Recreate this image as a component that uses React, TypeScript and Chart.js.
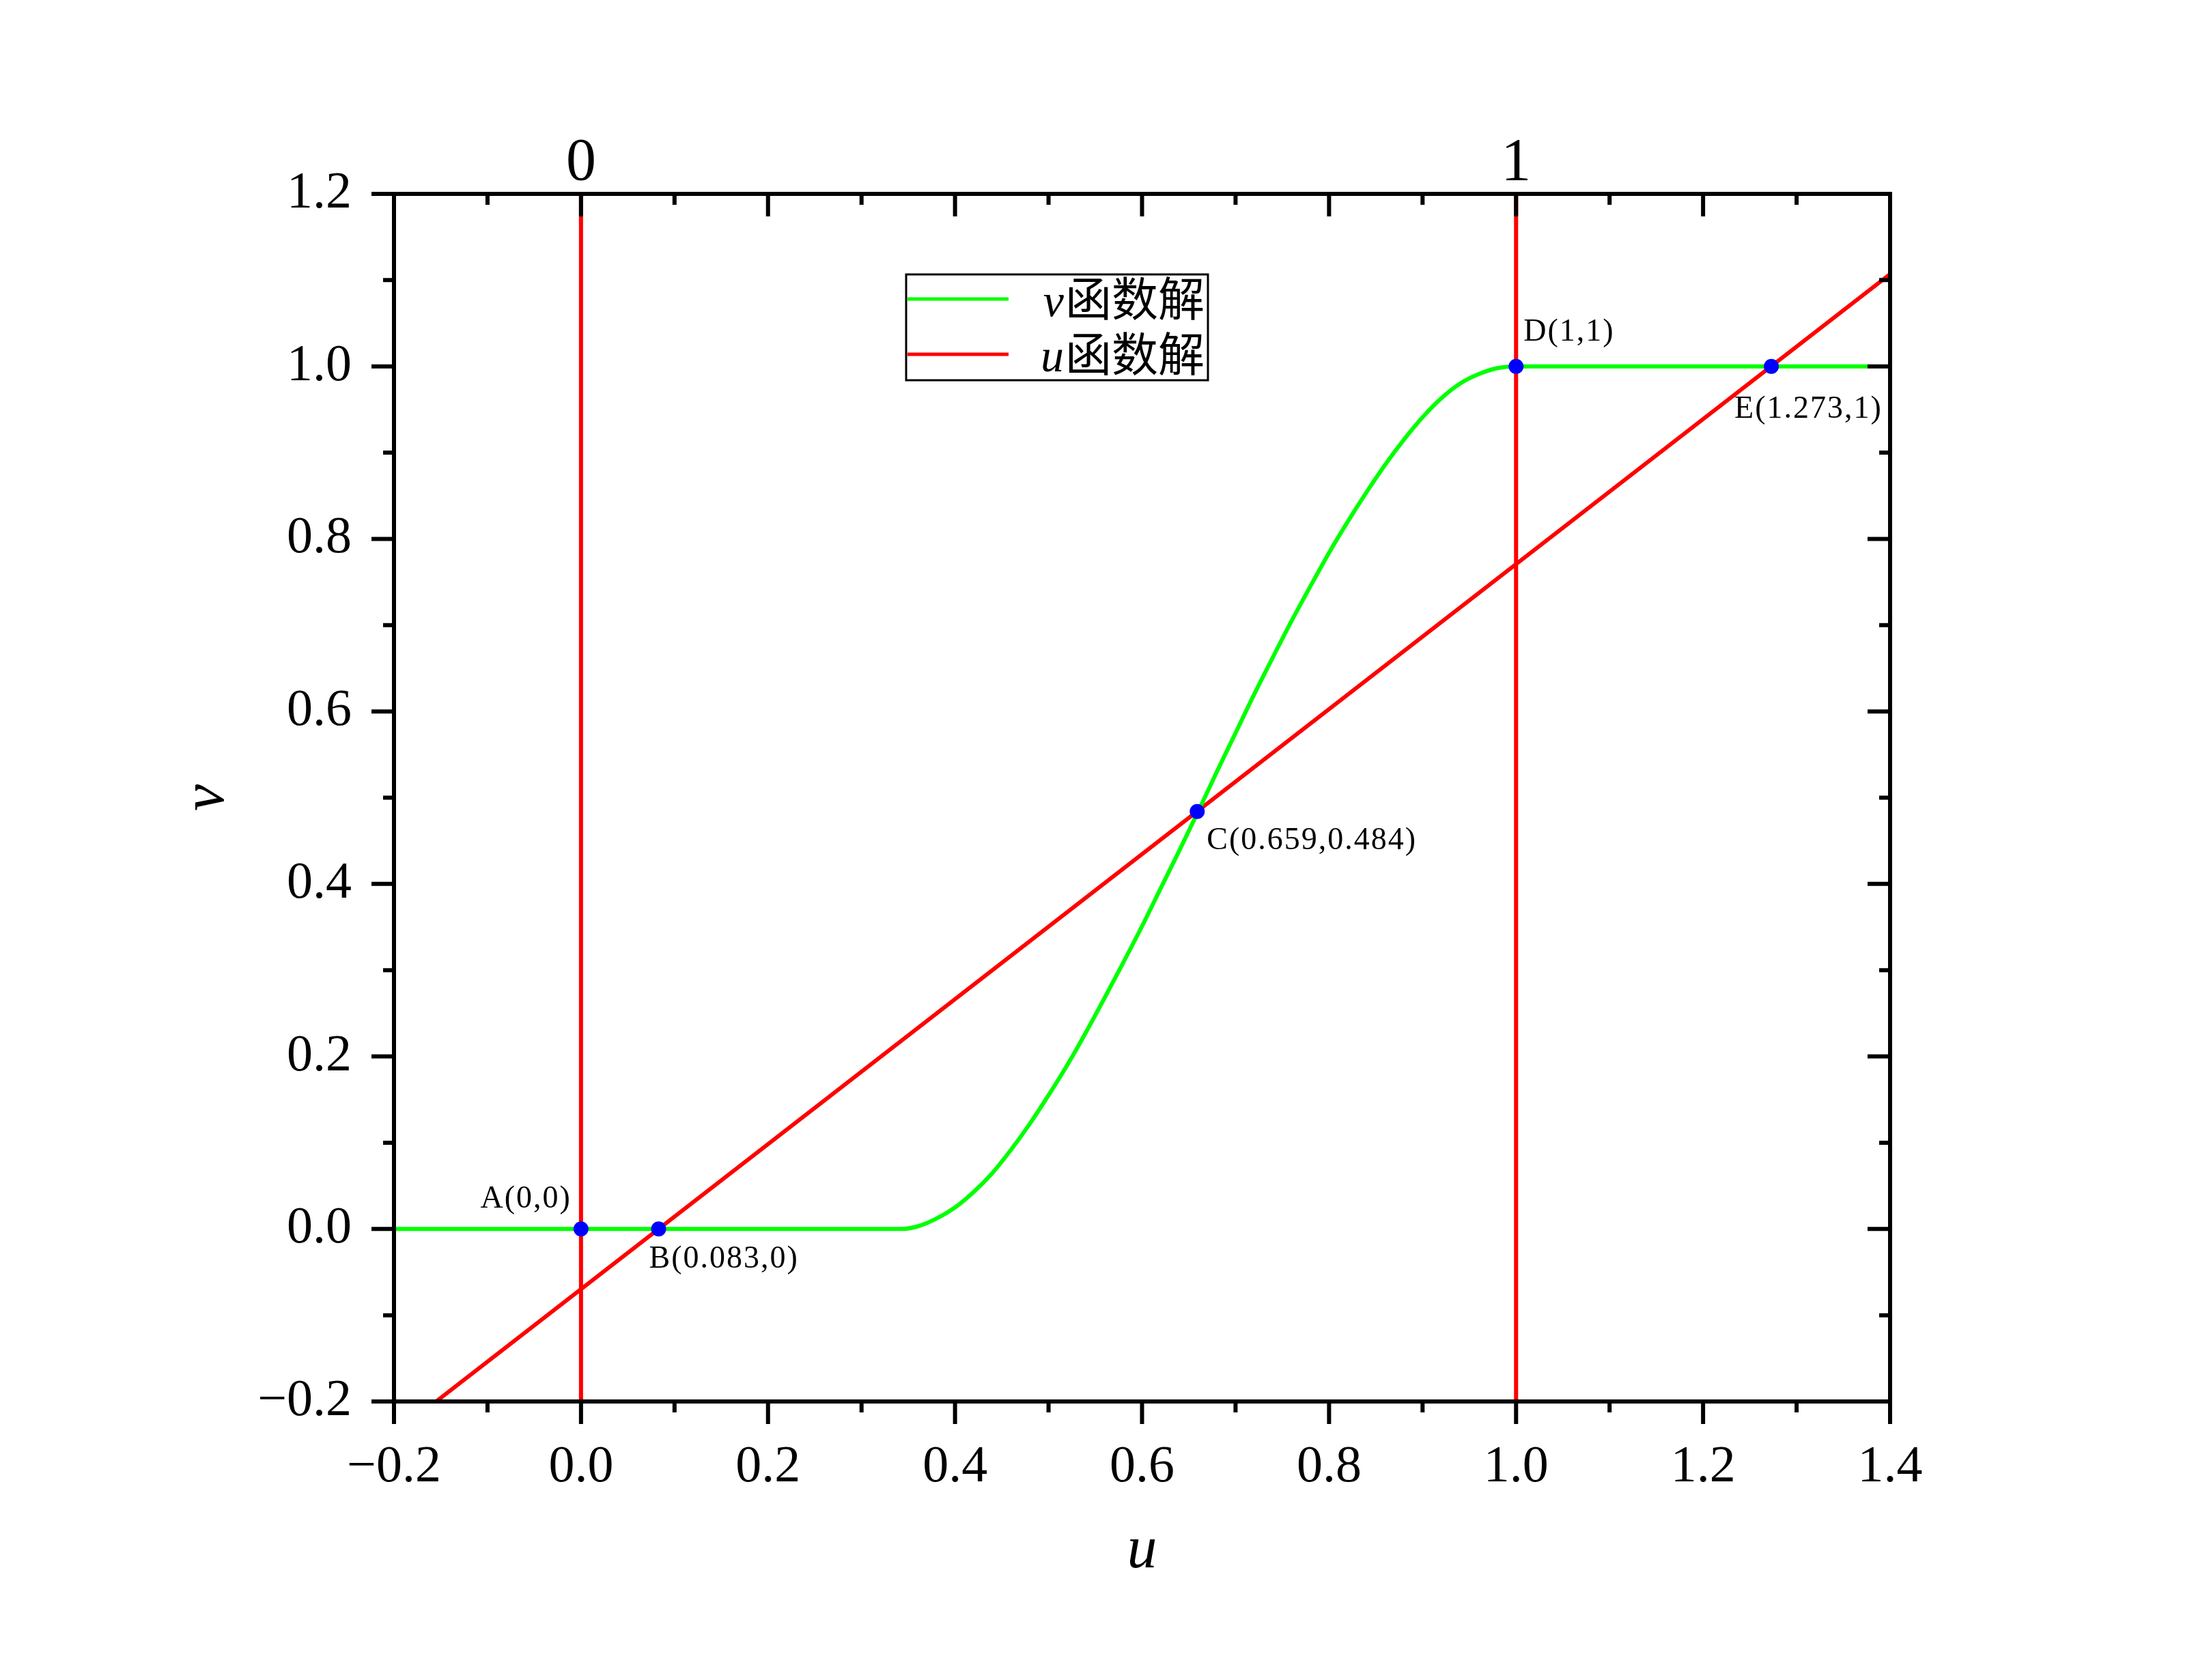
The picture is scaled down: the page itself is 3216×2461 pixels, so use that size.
import React, { useEffect, useRef } from 'react';
import { Chart, registerables } from 'chart.js';

Chart.register(...registerables);

// ---------------- data ----------------
const xTickValues = [-0.2, 0, 0.2, 0.4, 0.6, 0.8, 1.0, 1.2, 1.4];
const xTickLabels = ['−0.2', '0.0', '0.2', '0.4', '0.6', '0.8', '1.0', '1.2', '1.4'];
const yTickValues = [-0.2, 0, 0.2, 0.4, 0.6, 0.8, 1.0, 1.2];
const yTickLabels = ['−0.2', '0.0', '0.2', '0.4', '0.6', '0.8', '1.0', '1.2'];
const topTickValues = [0, 1];
const topTickLabels = ['0', '1'];

const xTitle = 'u';
const yTitle = 'v';
const seriesNames = ['v函数解', 'u函数解'];

// v function solution (green)
const vSolutionU = [-0.2, 0.342, 0.36, 0.38, 0.40, 0.42, 0.44, 0.46, 0.48, 0.50, 0.52, 0.54, 0.56, 0.58, 0.60, 0.62, 0.64, 0.66, 0.68, 0.70, 0.72, 0.74, 0.76, 0.78, 0.80, 0.82, 0.84, 0.86, 0.88, 0.90, 0.92, 0.94, 0.96, 0.98, 1.0, 1.376];
const vSolutionV = [0, 0, 0.003, 0.012, 0.025, 0.043, 0.065, 0.092, 0.122, 0.155, 0.190, 0.228, 0.268, 0.309, 0.351, 0.395, 0.439, 0.484, 0.530, 0.575, 0.620, 0.663, 0.705, 0.745, 0.784, 0.820, 0.854, 0.886, 0.915, 0.941, 0.963, 0.980, 0.991, 0.998, 1.0, 1.0];

// u function solution (red): oblique line + two vertical lines u=0, u=1
const uLineU = [-0.155, 1.4];
const uLineV = [-0.2, 1.107];
const uVerticalU = [0, 1];
const uVerticalV = [-0.2, 1.2];

// intersection points
const pointNames = ['A(0,0)', 'B(0.083,0)', 'C(0.659,0.484)', 'D(1,1)', 'E(1.273,1)'];
const pointU = [0, 0.083, 0.659, 1, 1.273];
const pointV = [0, 0, 0.484, 1, 1];

// ---------------- styles ----------------
const W = 3216;
const H = 2461;
const SERIF = "'Liberation Serif', 'Times New Roman', serif";
const CJK = "'Noto Sans CJK SC', sans-serif";
const GREEN = '#00FF00';
const RED = '#FF0000';
const BLUE = '#0000FF';
const LINE_W = 6;

const labelStyle = [
  { dx: -14, dy: -43, align: 'right' },
  { dx: -14, dy: 45, align: 'left' },
  { dx: 14, dy: 43, align: 'left' },
  { dx: 11, dy: -50, align: 'left' },
  { dx: -54, dy: 63, align: 'left' },
];

const mids = (vals: number[]) => vals.slice(0, -1).map((v, i) => (v + vals[i + 1]) / 2);

const framePlugin = {
  id: 'frameAndDecor',
  afterDatasetsDraw(chart: any) {
    const { ctx, chartArea: ca, scales } = chart;
    const xs = scales.x;
    const ys = scales.y;
    const MAJ = 33;
    const MIN = 16;
    ctx.save();
    ctx.strokeStyle = '#000';
    ctx.lineWidth = 6;
    ctx.lineCap = 'butt';
    ctx.beginPath();
    ctx.rect(ca.left, ca.top, ca.right - ca.left, ca.bottom - ca.top);
    ctx.stroke();

    const xMaj = xs.ticks.map((t: any) => t.value);
    const yMaj = ys.ticks.map((t: any) => t.value);
    const xMin = mids(xMaj);
    const yMin = mids(yMaj);
    ctx.beginPath();
    const xt = (vals: number[], len: number) => {
      vals.forEach((v) => {
        const px = xs.getPixelForValue(v);
        ctx.moveTo(px, ca.bottom);
        ctx.lineTo(px, ca.bottom + len);
        ctx.moveTo(px, ca.top);
        ctx.lineTo(px, ca.top + len);
      });
    };
    const yt = (vals: number[], len: number) => {
      vals.forEach((v) => {
        const py = ys.getPixelForValue(v);
        ctx.moveTo(ca.left, py);
        ctx.lineTo(ca.left - len, py);
        ctx.moveTo(ca.right, py);
        ctx.lineTo(ca.right - len, py);
      });
    };
    xt(xMaj, MAJ);
    xt(xMin, MIN);
    yt(yMaj, MAJ);
    yt(yMin, MIN);
    ctx.stroke();

    // point labels
    const meta = chart.getDatasetMeta(0);
    ctx.fillStyle = '#000';
    ctx.font = `46px ${SERIF}`;
    ctx.textBaseline = 'middle';
    (ctx as any).letterSpacing = '2px';
    meta.data.forEach((el: any, i: number) => {
      const st = labelStyle[i];
      ctx.textAlign = st.align;
      ctx.fillText(pointNames[i], el.x + st.dx, el.y + st.dy);
    });
    (ctx as any).letterSpacing = '0px';

    // legend
    const lg = { left: ca.left + 750, top: ca.top + 118, w: 442, h: 155 };
    ctx.lineWidth = 3;
    ctx.strokeStyle = '#000';
    ctx.strokeRect(lg.left, lg.top, lg.w, lg.h);
    const rows = [
      { ds: 1, lineY: 36, base: 61 },
      { ds: 2, lineY: 117, base: 142 },
    ];
    rows.forEach((r) => {
      const ds = chart.data.datasets[r.ds];
      ctx.strokeStyle = ds.borderColor;
      ctx.lineWidth = 5;
      ctx.beginPath();
      ctx.moveTo(lg.left + 2, lg.top + r.lineY);
      ctx.lineTo(lg.left + 150, lg.top + r.lineY);
      ctx.stroke();
      const label: string = ds.label;
      const first = label.slice(0, 1);
      const rest = label.slice(1);
      const right = lg.left + lg.w - 5;
      ctx.textBaseline = 'alphabetic';
      ctx.textAlign = 'right';
      ctx.fillStyle = '#000';
      ctx.font = `68px ${CJK}`;
      const rw = ctx.measureText(rest).width;
      ctx.fillText(rest, right, lg.top + r.base);
      ctx.font = `italic 68px ${SERIF}`;
      ctx.fillText(first, right - rw - 2, lg.top + r.base);
    });
    ctx.restore();
  },
};

export default function App() {
  const ref = useRef<HTMLCanvasElement | null>(null);

  useEffect(() => {
    if (!ref.current) return;
    const greenData = vSolutionU.map((u, i) => ({ x: u, y: vSolutionV[i] }));
    const redData: any[] = [...uLineU.map((u, i) => ({ x: u, y: uLineV[i] }))];
    uVerticalU.forEach((u) => {
      redData.push({ x: u, y: null });
      uVerticalV.forEach((v) => redData.push({ x: u, y: v }));
    });
    const pts = pointU.map((u, i) => ({ x: u, y: pointV[i] }));

    const chart = new Chart(ref.current, {
      type: 'line',
      data: {
        datasets: [
          {
            label: '交点',
            data: pts,
            showLine: false,
            pointRadius: 11,
            pointBackgroundColor: BLUE,
            pointBorderWidth: 0,
            borderColor: BLUE,
          },
          {
            label: seriesNames[0],
            data: greenData,
            borderColor: GREEN,
            borderWidth: LINE_W,
            pointRadius: 0,
            cubicInterpolationMode: 'monotone',
            fill: false,
          },
          {
            label: seriesNames[1],
            data: redData,
            borderColor: RED,
            borderWidth: LINE_W,
            pointRadius: 0,
            spanGaps: false,
            tension: 0,
            fill: false,
          },
        ],
      } as any,
      options: {
        responsive: false,
        devicePixelRatio: 1,
        animation: false,
        layout: { padding: { left: 0, right: 448, top: 0, bottom: 0 } },
        plugins: { legend: { display: false }, tooltip: { enabled: false } },
        scales: {
          x: {
            type: 'linear',
            position: 'bottom',
            min: -0.2,
            max: 1.4,
            afterBuildTicks: (s: any) => {
              s.ticks = xTickValues.map((v) => ({ value: v }));
            },
            afterFit: (s: any) => {
              s.height = 408;
            },
            grid: { display: false, drawTicks: false },
            border: { display: false },
            ticks: {
              autoSkip: false,
              maxRotation: 0,
              padding: 51,
              color: '#000',
              font: { family: SERIF, size: 76 },
              callback: (_v: any, i: number) => xTickLabels[i],
            },
            title: {
              display: true,
              text: xTitle,
              color: '#000',
              font: { family: SERIF, size: 88, style: 'italic' },
              padding: { top: 0, bottom: 135 },
            },
          },
          xTop: {
            type: 'linear',
            position: 'top',
            min: -0.2,
            max: 1.4,
            afterBuildTicks: (s: any) => {
              s.ticks = topTickValues.map((v) => ({ value: v }));
            },
            afterFit: (s: any) => {
              s.height = 284;
            },
            grid: { display: false, drawTicks: false },
            border: { display: false },
            ticks: {
              autoSkip: false,
              maxRotation: 0,
              padding: 0,
              color: '#000',
              font: { family: SERIF, size: 88, lineHeight: 1 },
              callback: (_v: any, i: number) => topTickLabels[i],
            },
          },
          y: {
            type: 'linear',
            position: 'left',
            min: -0.2,
            max: 1.2,
            afterBuildTicks: (s: any) => {
              s.ticks = yTickValues.map((v) => ({ value: v }));
            },
            afterFit: (s: any) => {
              s.width = 577;
            },
            grid: { display: false, drawTicks: false },
            border: { display: false },
            ticks: {
              autoSkip: false,
              padding: 62,
              color: '#000',
              font: { family: SERIF, size: 76 },
              callback: (_v: any, i: number) => yTickLabels[i],
            },
            title: {
              display: true,
              text: yTitle,
              color: '#000',
              font: { family: SERIF, size: 88, style: 'italic' },
              padding: { top: 251, bottom: 0 },
            },
          },
        },
      } as any,
      plugins: [framePlugin],
    });
    return () => chart.destroy();
  }, []);

  return (
    <div style={{ position: 'absolute', left: 0, top: 0, width: W, height: H, background: '#fff' }}>
      <canvas ref={ref} width={W} height={H} style={{ display: 'block', width: `${W}px`, height: `${H}px` }} />
    </div>
  );
}
